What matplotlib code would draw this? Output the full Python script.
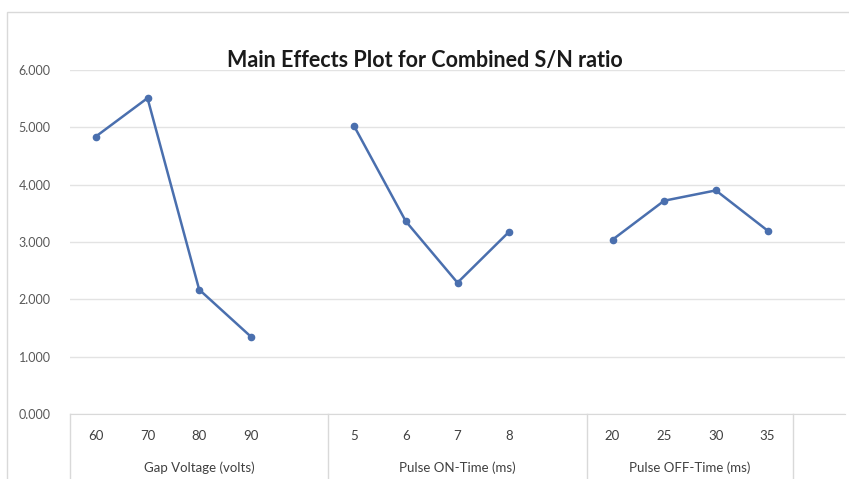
import numpy as np
import matplotlib
matplotlib.use('Agg')
import matplotlib.pyplot as plt

plt.rcParams['font.family'] = ['Lato', 'DejaVu Sans']

# data
factors = ['Gap Voltage (volts)', 'Pulse ON-Time (ms)', 'Pulse OFF-Time (ms)']
gap_levels = ['60', '70', '80', '90']
on_levels = ['5', '6', '7', '8']
off_levels = ['20', '25', '30', '35']
gap_sn = [4.84, 5.51, 2.17, 1.35]
on_sn = [5.02, 3.36, 2.29, 3.18]
off_sn = [3.04, 3.72, 3.90, 3.20]

groups = [(gap_levels, gap_sn), (on_levels, on_sn), (off_levels, off_sn)]

# build the category axis: each factor followed by one blank slot
labels, values, group_spans = [], [], []
for levels, vals in groups:
    start = len(labels)
    labels += levels + ['']
    values += vals + [np.nan]
    group_spans.append((start, start + len(levels)))
x = np.arange(len(labels))

fig = plt.figure(figsize=(8.49, 4.79), dpi=100)
# chart border like the Excel chart area
fig.patches.append(plt.Rectangle((0.008, -0.01), 1.0, 0.985, transform=fig.transFigure,
                                 fill=False, edgecolor='#d9d9d9', linewidth=1))
ax = fig.add_axes([70 / 849, 1 - 414 / 479, 775 / 849, 344 / 479])

ax.plot(x, values, color='#4a6fae', linewidth=1.8, marker='o', markersize=4.5)

ax.set_xlim(-0.5, len(labels) - 0.5)
ax.set_ylim(0, 6)
ax.set_yticks(np.arange(0, 7, 1))
ax.set_yticklabels([f'{v:.3f}' for v in range(7)], fontsize=9, color='#595959')
ax.yaxis.grid(True, color='#e3e3e3', linewidth=1)
ax.set_axisbelow(True)
ax.tick_params(axis='y', length=0, pad=14)
ax.tick_params(axis='x', length=0)
ax.set_xticks([])
for side in ['top', 'right', 'left']:
    ax.spines[side].set_visible(False)
ax.spines['bottom'].set_color('#d9d9d9')

# multi-level category labels
trans = ax.get_xaxis_transform()
for i, lab in enumerate(labels):
    if lab:
        ax.text(x[i], -0.065, lab, transform=trans, ha='center', va='center',
                fontsize=9.5, color='#404040')

# group spans: the first two include their trailing blank slot, the last does not
sep = [-0.5]
for k, (s, e) in enumerate(group_spans):
    right = e + 0.5 if k < len(group_spans) - 1 else e - 0.5
    sep.append(right)
    ax.text((s - 0.5 + right) / 2, -0.155, factors[k], transform=trans, ha='center', va='center',
            fontsize=9.5, color='#404040')
for xs in sep:
    ax.plot([xs, xs], [0, -0.2], transform=trans, color='#d9d9d9', linewidth=1, clip_on=False)

fig.text(0.5, 1 - 60 / 479, 'Main Effects Plot for Combined S/N ratio', ha='center', va='center',
         fontsize=15.5, fontweight='bold', color='#1a1a1a')

fig.savefig('out.png', dpi=100, facecolor='white')
